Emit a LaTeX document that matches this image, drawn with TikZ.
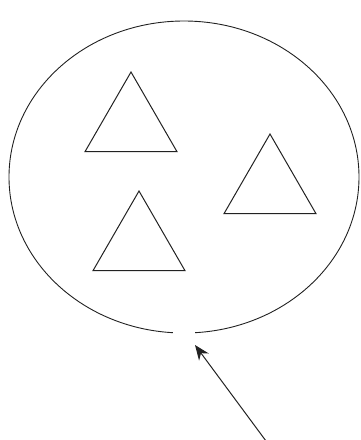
\documentclass[tikz,border=0pt]{standalone}
\usepackage{xcolor}
\definecolor{inkgray}{HTML}{222222}
\usepackage{tikz}
\usetikzlibrary{arrows.meta,positioning,shapes.geometric}
\tikzset{
    set_region/.style={draw=inkgray, ellipse, line width=0.9pt, inner sep=0pt, minimum width=350pt, minimum height=312pt},
    set_item/.style={draw=inkgray, regular polygon, regular polygon sides=3, line width=1pt, inner sep=0pt, minimum size=106pt},
    set_gap/.style={draw=white, line width=3pt},
    set_pointer/.style={draw=inkgray, line width=1pt, -{Stealth[length=15pt,width=12pt]}}
}
\begin{document}
\begin{tikzpicture}[x=1pt, y=-1pt]
\useasboundingbox (0,0) rectangle (361,440);
% outer set with three members
\node[set_region] (region) at (184,177) {};
\draw[set_gap] ([xshift=-11pt]region.south) -- ([xshift=11pt]region.south);
\node[set_item] (tri1) at (131,125) {};
\node[set_item] (tri2) at (270,187) {};
\node[set_item] (tri3) at (139,244) {};
% pointer into the opening
\coordinate (tail) at (266,441);
\coordinate (tip) at (195,345);
\draw[set_pointer] (tail) -- (tip);
\end{tikzpicture}
\end{document}
